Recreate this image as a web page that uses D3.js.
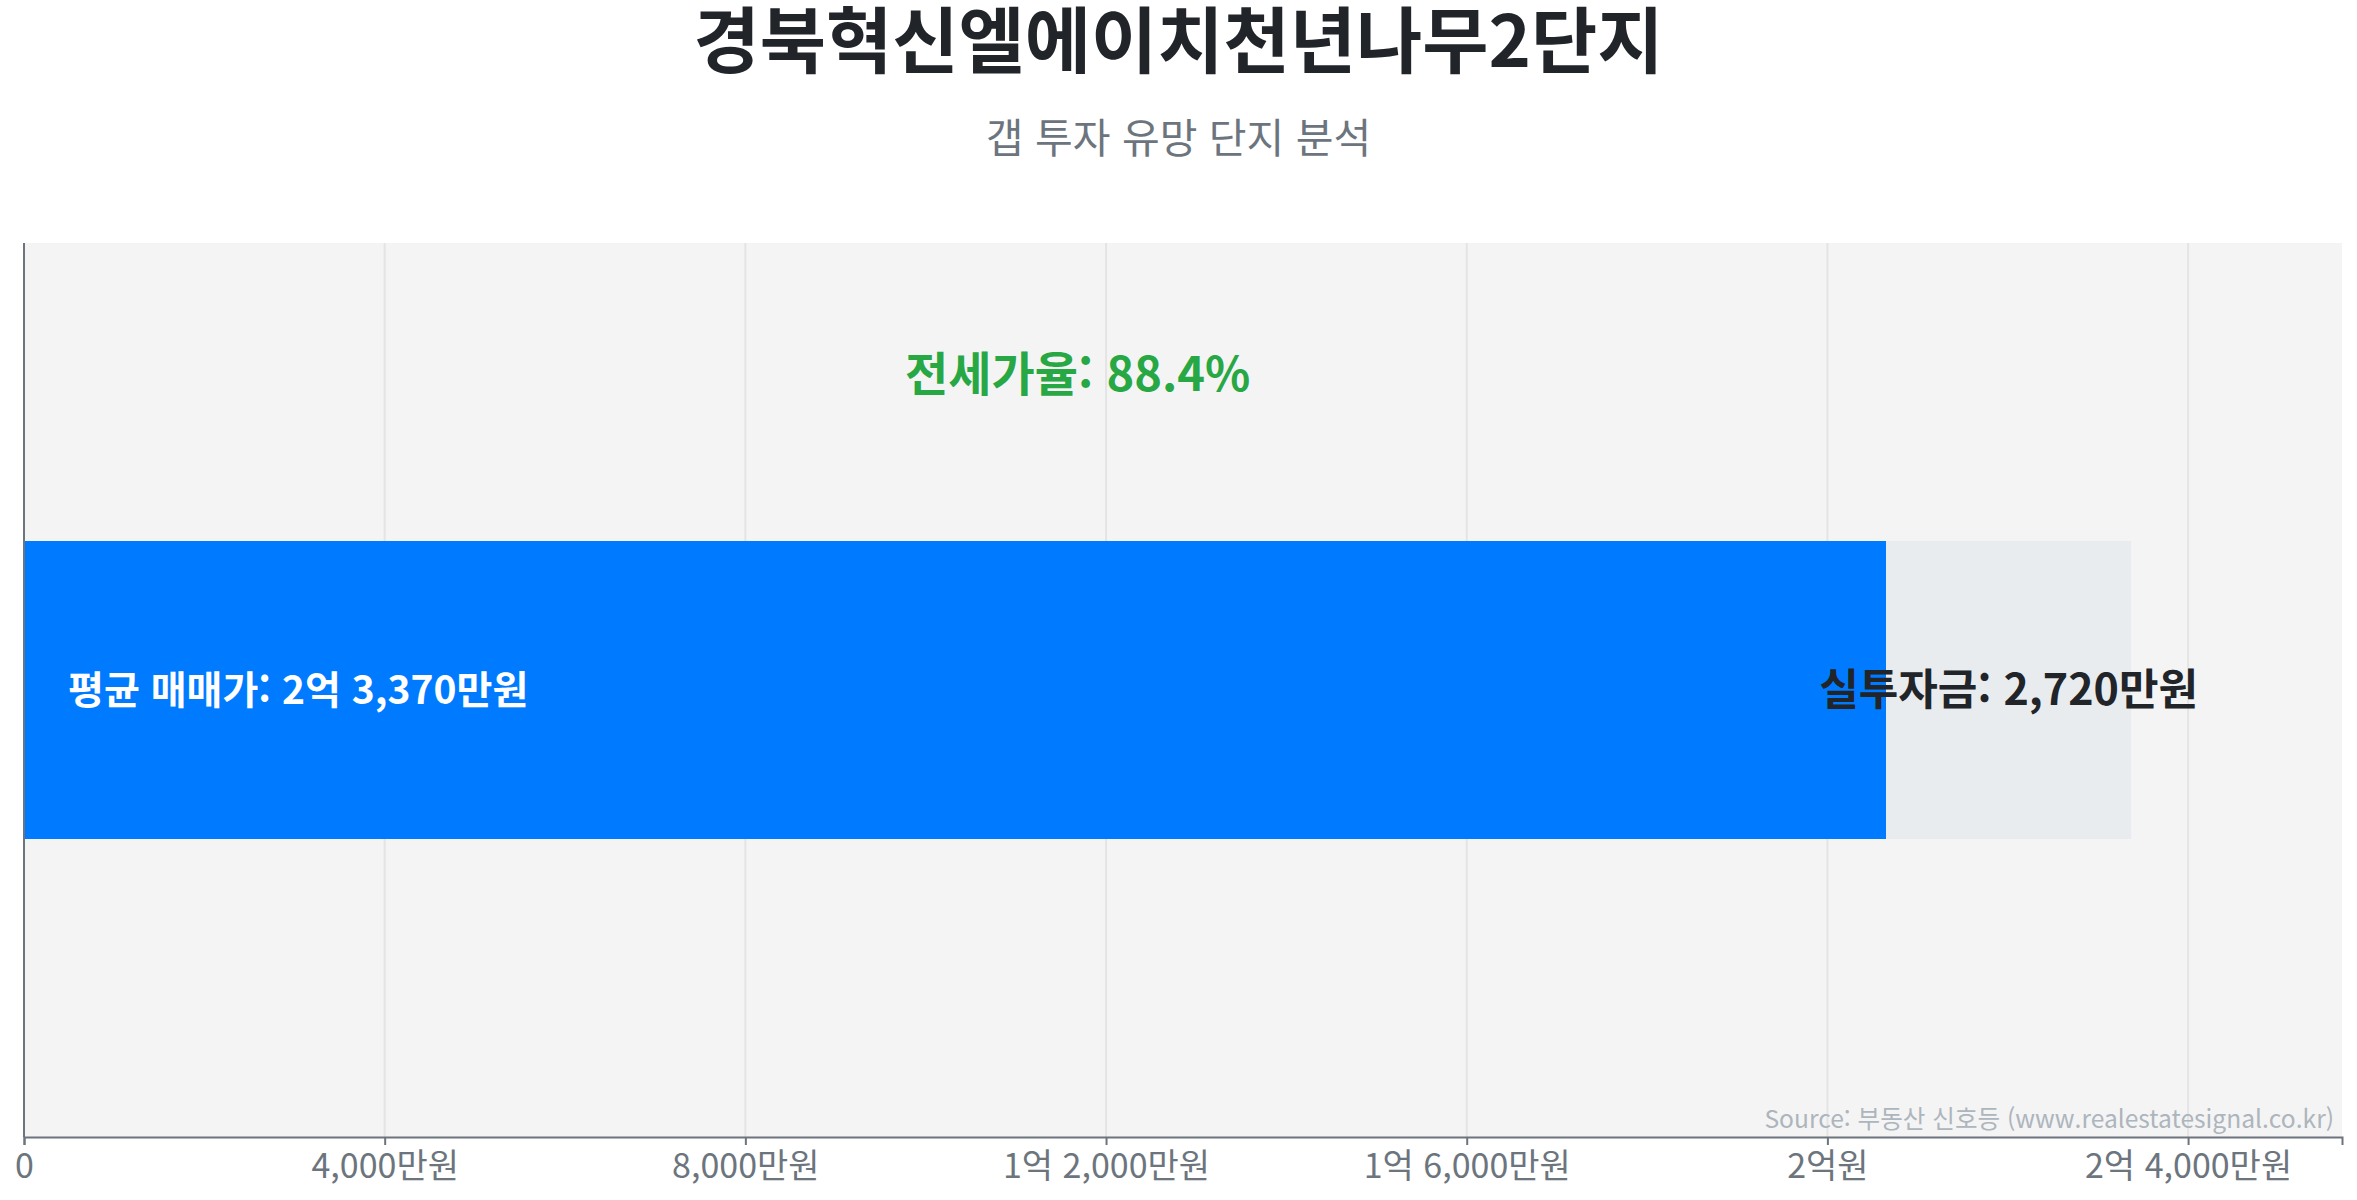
<!DOCTYPE html>
<html lang="ko">
<head>
<meta charset="utf-8">
<title>경북혁신엘에이치천년나무2단지</title>
<script src="https://cdn.jsdelivr.net/npm/d3@7"></script>
<style>
  html, body { margin: 0; padding: 0; background: #fff; }
  svg { display: block; font-family: "Noto Sans CJK KR", "Noto Sans", sans-serif; }
</style>
</head>
<body>
<div id="chart"></div>
<script>
// 단지 데이터 (단위: 만원)
const complexName = "경북혁신엘에이치천년나무2단지";
const subtitle = "갭 투자 유망 단지 분석";
const categories = ["가격"];
const salePrice = [23370];   // 평균 매매가
const jeonsePrice = [20650]; // 평균 전세가
const gapAmount = [2720];    // 실투자금
const jeonseRatio = [88.4];  // 전세가율 (%)
const tickValues = [0, 4000, 8000, 12000, 16000, 20000, 24000];
const sourceText = "Source: 부동산 신호등 (www.realestatesignal.co.kr)";

const width = 2357, height = 1200;
const margin = { top: 243, right: 15, bottom: 63, left: 24 };
const innerW = width - margin.left - margin.right;
const innerH = height - margin.top - margin.bottom;

// 금액 포맷: 만원 -> "1억 2,000만원"
function formatWon(v) {
    if (v === 0) return "0";
    const eok = Math.floor(v / 10000);
    const man = v % 10000;
    const manStr = d3.format(",")(man) + "만원";
    if (eok === 0) return manStr;
    if (man === 0) return eok + "억원";
    return eok + "억 " + manStr;
}

const svg = d3.select("#chart").append("svg")
    .attr("width", width)
    .attr("height", height);

// 제목
svg.append("text")
    .attr("x", width / 2)
    .attr("y", 67)
    .attr("text-anchor", "middle")
    .attr("font-size", 72)
    .attr("font-weight", 700)
    .attr("fill", "#212529")
    .text(complexName);

svg.append("text")
    .attr("x", width / 2)
    .attr("y", 153)
    .attr("text-anchor", "middle")
    .attr("font-size", 41)
    .attr("fill", "#6c757d")
    .text(subtitle);

const g = svg.append("g")
    .attr("transform", `translate(${margin.left},${margin.top})`);

const x = d3.scaleLinear()
    .domain([0, d3.max(salePrice) * 1.1])
    .range([0, innerW]);

const y = d3.scaleBand()
    .domain(categories)
    .range([0, innerH])
    .padding(0.5);

// 배경
g.append("rect")
    .attr("width", innerW)
    .attr("height", innerH)
    .attr("fill", "#f4f4f4");

// 세로 그리드
g.append("g")
    .selectAll("line")
    .data(tickValues.slice(1))
    .enter().append("line")
    .attr("x1", d => x(d))
    .attr("x2", d => x(d))
    .attr("y1", 0)
    .attr("y2", innerH)
    .attr("stroke", "#e4e4e4")
    .attr("stroke-width", 2);

// 전세가 막대
g.append("g")
    .selectAll("rect")
    .data(categories)
    .enter().append("rect")
    .attr("x", x(0))
    .attr("y", d => y(d))
    .attr("width", (d, i) => x(jeonsePrice[i]) - x(0))
    .attr("height", y.bandwidth())
    .attr("fill", "#007bff");

// 실투자금 막대 (전세가 위에 쌓기)
g.append("g")
    .selectAll("rect")
    .data(categories)
    .enter().append("rect")
    .attr("x", (d, i) => x(jeonsePrice[i]))
    .attr("y", d => y(d))
    .attr("width", (d, i) => x(jeonsePrice[i] + gapAmount[i]) - x(jeonsePrice[i]))
    .attr("height", y.bandwidth())
    .attr("fill", "#e9ecef");

// 막대 라벨
categories.forEach((c, i) => {
    const cy = y(c) + y.bandwidth() / 2;

    g.append("text")
        .attr("x", x(0) + 44)
        .attr("y", cy)
        .attr("dy", "0.35em")
        .attr("font-size", 39)
        .attr("font-weight", 700)
        .attr("fill", "#fff")
        .text("평균 매매가: " + formatWon(salePrice[i]));

    g.append("text")
        .attr("x", x(jeonsePrice[i] + gapAmount[i] / 2))
        .attr("y", cy)
        .attr("dy", "0.35em")
        .attr("text-anchor", "middle")
        .attr("font-size", 43)
        .attr("font-weight", 700)
        .attr("fill", "#212529")
        .text("실투자금: " + d3.format(",")(gapAmount[i]) + "만원");

    // 전세가율: 막대 위 여백
    g.append("text")
        .attr("x", x(salePrice[i] / 2))
        .attr("y", y(c) / 2 - 17)
        .attr("dy", "0.35em")
        .attr("text-anchor", "middle")
        .attr("font-size", 47)
        .attr("font-weight", 700)
        .attr("fill", "#28a745")
        .text("전세가율: " + jeonseRatio[i] + "%");
});

// 출처
g.append("text")
    .attr("x", innerW - 8)
    .attr("y", innerH - 9)
    .attr("text-anchor", "end")
    .attr("font-size", 24.6)
    .attr("fill", "#adb5bd")
    .text(sourceText);

// 축
const xAxis = g.append("g")
    .attr("transform", `translate(0,${innerH})`)
    .call(d3.axisBottom(x).tickValues(tickValues).tickFormat(formatWon).tickSize(8).tickPadding(9));

xAxis.select(".domain").attr("stroke", "#6c757d").attr("stroke-width", 2);
xAxis.selectAll(".tick line").attr("stroke", "#6c757d").attr("stroke-width", 2);
xAxis.selectAll(".tick text")
    .attr("font-size", 34)
    .attr("fill", "#6c757d")
    .attr("font-family", "\"Noto Sans CJK KR\", sans-serif");

g.append("line")
    .attr("x1", 0).attr("x2", 0)
    .attr("y1", 0).attr("y2", innerH)
    .attr("stroke", "#6c757d")
    .attr("stroke-width", 2);
</script>
</body>
</html>
